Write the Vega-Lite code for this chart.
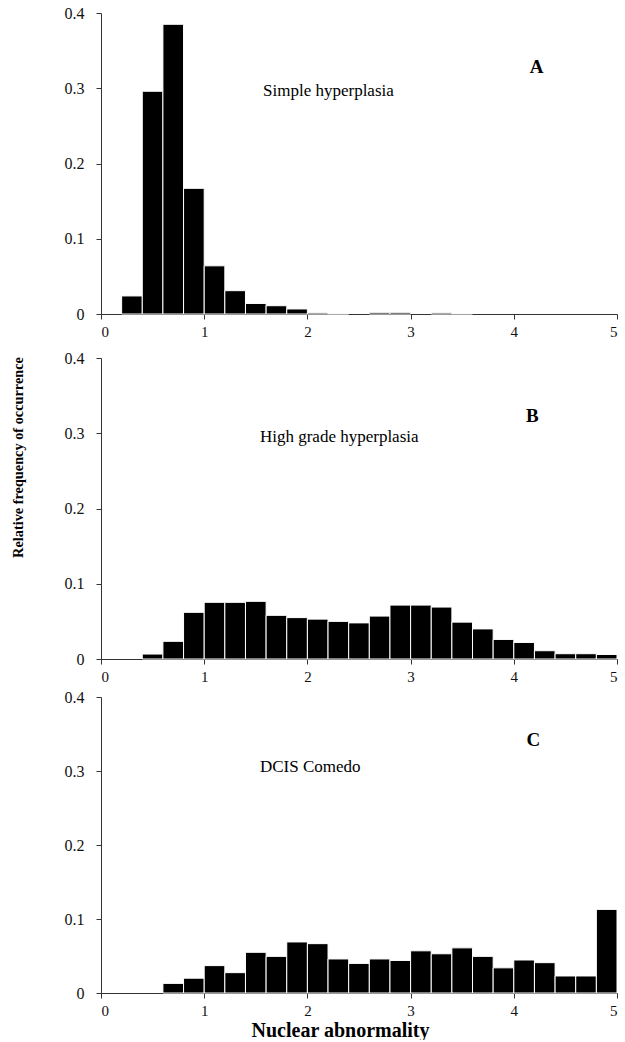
{
  "$schema": "https://vega.github.io/schema/vega-lite/v6.json",
  "background": "white",
  "padding": {"left": 10, "top": 5, "right": 5, "bottom": 0},
  "config": {
    "font": "Liberation Serif",
    "view": {"stroke": null},
    "axis": {
      "grid": false,
      "domainColor": "#333",
      "tickColor": "#333",
      "labelColor": "#111",
      "labelFont": "Liberation Serif",
      "labelFontSize": 15,
      "titleFont": "Liberation Serif",
      "titleFontWeight": "bold",
      "titleColor": "#000",
      "titleFontSize": 20,
      "tickSize": 5,
      "domainWidth": 1,
      "tickWidth": 1
    },
    "axisY": {"labelFontSize": 16, "labelPadding": 12},
    "axisX": {"labelPadding": 5}
  },
  "datasets": {
    "hist": [
      {"panel": "A", "start": 0.2, "end": 0.4, "freq": 0.024},
      {"panel": "A", "start": 0.4, "end": 0.6, "freq": 0.296},
      {"panel": "A", "start": 0.6, "end": 0.8, "freq": 0.385},
      {"panel": "A", "start": 0.8, "end": 1.0, "freq": 0.167},
      {"panel": "A", "start": 1.0, "end": 1.2, "freq": 0.064},
      {"panel": "A", "start": 1.2, "end": 1.4, "freq": 0.031},
      {"panel": "A", "start": 1.4, "end": 1.6, "freq": 0.014},
      {"panel": "A", "start": 1.6, "end": 1.8, "freq": 0.011},
      {"panel": "A", "start": 1.8, "end": 2.0, "freq": 0.0067},
      {"panel": "A", "start": 2.0, "end": 2.2, "freq": 0.0015},
      {"panel": "A", "start": 2.2, "end": 2.4, "freq": 0.0004},
      {"panel": "A", "start": 2.6, "end": 2.8, "freq": 0.0022},
      {"panel": "A", "start": 2.8, "end": 3.0, "freq": 0.0022},
      {"panel": "A", "start": 3.2, "end": 3.4, "freq": 0.0015},
      {"panel": "A", "start": 3.4, "end": 3.6, "freq": 0.0005},
      {"panel": "B", "start": 0.4, "end": 0.6, "freq": 0.0066},
      {"panel": "B", "start": 0.6, "end": 0.8, "freq": 0.0235},
      {"panel": "B", "start": 0.8, "end": 1.0, "freq": 0.062},
      {"panel": "B", "start": 1.0, "end": 1.2, "freq": 0.0753},
      {"panel": "B", "start": 1.2, "end": 1.4, "freq": 0.0753},
      {"panel": "B", "start": 1.4, "end": 1.6, "freq": 0.0766},
      {"panel": "B", "start": 1.6, "end": 1.8, "freq": 0.058},
      {"panel": "B", "start": 1.8, "end": 2.0, "freq": 0.055},
      {"panel": "B", "start": 2.0, "end": 2.2, "freq": 0.053},
      {"panel": "B", "start": 2.2, "end": 2.4, "freq": 0.050},
      {"panel": "B", "start": 2.4, "end": 2.6, "freq": 0.048},
      {"panel": "B", "start": 2.6, "end": 2.8, "freq": 0.057},
      {"panel": "B", "start": 2.8, "end": 3.0, "freq": 0.0716},
      {"panel": "B", "start": 3.0, "end": 3.2, "freq": 0.0716},
      {"panel": "B", "start": 3.2, "end": 3.4, "freq": 0.069},
      {"panel": "B", "start": 3.4, "end": 3.6, "freq": 0.049},
      {"panel": "B", "start": 3.6, "end": 3.8, "freq": 0.040},
      {"panel": "B", "start": 3.8, "end": 4.0, "freq": 0.026},
      {"panel": "B", "start": 4.0, "end": 4.2, "freq": 0.022},
      {"panel": "B", "start": 4.2, "end": 4.4, "freq": 0.011},
      {"panel": "B", "start": 4.4, "end": 4.6, "freq": 0.007},
      {"panel": "B", "start": 4.6, "end": 4.8, "freq": 0.007},
      {"panel": "B", "start": 4.8, "end": 5.0, "freq": 0.006},
      {"panel": "C", "start": 0.6, "end": 0.8, "freq": 0.013},
      {"panel": "C", "start": 0.8, "end": 1.0, "freq": 0.020},
      {"panel": "C", "start": 1.0, "end": 1.2, "freq": 0.037},
      {"panel": "C", "start": 1.2, "end": 1.4, "freq": 0.0275},
      {"panel": "C", "start": 1.4, "end": 1.6, "freq": 0.055},
      {"panel": "C", "start": 1.6, "end": 1.8, "freq": 0.0495},
      {"panel": "C", "start": 1.8, "end": 2.0, "freq": 0.069},
      {"panel": "C", "start": 2.0, "end": 2.2, "freq": 0.0667},
      {"panel": "C", "start": 2.2, "end": 2.4, "freq": 0.046},
      {"panel": "C", "start": 2.4, "end": 2.6, "freq": 0.040},
      {"panel": "C", "start": 2.6, "end": 2.8, "freq": 0.046},
      {"panel": "C", "start": 2.8, "end": 3.0, "freq": 0.044},
      {"panel": "C", "start": 3.0, "end": 3.2, "freq": 0.057},
      {"panel": "C", "start": 3.2, "end": 3.4, "freq": 0.053},
      {"panel": "C", "start": 3.4, "end": 3.6, "freq": 0.061},
      {"panel": "C", "start": 3.6, "end": 3.8, "freq": 0.0495},
      {"panel": "C", "start": 3.8, "end": 4.0, "freq": 0.034},
      {"panel": "C", "start": 4.0, "end": 4.2, "freq": 0.0446},
      {"panel": "C", "start": 4.2, "end": 4.4, "freq": 0.041},
      {"panel": "C", "start": 4.4, "end": 4.6, "freq": 0.023},
      {"panel": "C", "start": 4.6, "end": 4.8, "freq": 0.023},
      {"panel": "C", "start": 4.8, "end": 5.0, "freq": 0.113}
    ],
    "names": [
      {"panel": "A", "label": "Simple hyperplasia", "x": 1.57, "y": 0.296},
      {"panel": "B", "label": "High grade hyperplasia", "x": 1.54, "y": 0.295},
      {"panel": "C", "label": "DCIS Comedo", "x": 1.54, "y": 0.305}
    ],
    "letters": [
      {"panel": "A", "label": "A", "x": 4.22, "y": 0.328},
      {"panel": "B", "label": "B", "x": 4.18, "y": 0.323},
      {"panel": "C", "label": "C", "x": 4.19, "y": 0.342}
    ]
  },
  "spacing": 11,
  "vconcat": [
    {
      "width": 516,
      "height": 301,
      "layer": [
        {
          "data": {"name": "hist"},
          "transform": [{"filter": "datum.panel === 'A'"}],
          "mark": {"type": "rect", "color": "black", "stroke": "white", "strokeWidth": 1},
          "encoding": {
            "x": {"field": "start", "type": "quantitative", "scale": {"domain": [0, 5], "nice": false, "zero": false},
              "axis": {"values": [0, 1, 2, 3, 4, 5], "format": "d", "title": null}},
            "x2": {"field": "end"},
            "y": {"field": "freq", "type": "quantitative", "scale": {"domain": [0, 0.4], "nice": false},
              "axis": {"values": [0, 0.1, 0.2, 0.3, 0.4], "labelExpr": "datum.value === 0 ? '0' : format(datum.value, '.1f')", "title": null}},
            "y2": {"datum": 0}
          }
        },
        {
          "data": {"name": "names"},
          "transform": [{"filter": "datum.panel === 'A'"}],
          "mark": {"type": "text", "align": "left", "baseline": "middle", "font": "Liberation Serif", "fontSize": 17, "color": "black"},
          "encoding": {
            "x": {"field": "x", "type": "quantitative"},
            "y": {"field": "y", "type": "quantitative"},
            "text": {"field": "label"}
          }
        },
        {
          "data": {"name": "letters"},
          "transform": [{"filter": "datum.panel === 'A'"}],
          "mark": {"type": "text", "align": "center", "baseline": "middle", "font": "Liberation Serif", "fontSize": 19, "fontWeight": "bold", "color": "black"},
          "encoding": {
            "x": {"field": "x", "type": "quantitative"},
            "y": {"field": "y", "type": "quantitative"},
            "text": {"field": "label"}
          }
        }
      ]
    },
    {
      "spacing": 5,
      "vconcat": [
        {
          "width": 516,
          "height": 301,
          "layer": [
            {
              "data": {"name": "hist"},
              "transform": [{"filter": "datum.panel === 'B'"}],
              "mark": {"type": "rect", "color": "black", "stroke": "white", "strokeWidth": 1},
              "encoding": {
                "x": {"field": "start", "type": "quantitative", "scale": {"domain": [0, 5], "nice": false, "zero": false},
                  "axis": {"values": [0, 1, 2, 3, 4, 5], "format": "d", "title": null}},
                "x2": {"field": "end"},
                "y": {"field": "freq", "type": "quantitative", "scale": {"domain": [0, 0.4], "nice": false},
                  "axis": {"values": [0, 0.1, 0.2, 0.3, 0.4], "labelExpr": "datum.value === 0 ? '0' : format(datum.value, '.1f')", "title": "Relative frequency of occurrence", "titleFontSize": 14.3, "titleY": 99, "titleX": -76}},
                "y2": {"datum": 0}
              }
            },
            {
              "data": {"name": "names"},
              "transform": [{"filter": "datum.panel === 'B'"}],
              "mark": {"type": "text", "align": "left", "baseline": "middle", "font": "Liberation Serif", "fontSize": 17, "color": "black"},
              "encoding": {
                "x": {"field": "x", "type": "quantitative"},
                "y": {"field": "y", "type": "quantitative"},
                "text": {"field": "label"}
              }
            },
            {
              "data": {"name": "letters"},
              "transform": [{"filter": "datum.panel === 'B'"}],
              "mark": {"type": "text", "align": "center", "baseline": "middle", "font": "Liberation Serif", "fontSize": 19, "fontWeight": "bold", "color": "black"},
              "encoding": {
                "x": {"field": "x", "type": "quantitative"},
                "y": {"field": "y", "type": "quantitative"},
                "text": {"field": "label"}
              }
            }
          ]
        },
        {
          "width": 516,
          "height": 296,
          "layer": [
            {
              "data": {"name": "hist"},
              "transform": [{"filter": "datum.panel === 'C'"}],
              "mark": {"type": "rect", "color": "black", "stroke": "white", "strokeWidth": 1},
              "encoding": {
                "x": {"field": "start", "type": "quantitative", "scale": {"domain": [0, 5], "nice": false, "zero": false},
                  "axis": {"values": [0, 1, 2, 3, 4, 5], "format": "d", "title": "Nuclear abnormality", "titlePadding": 2, "titleX": 239}},
                "x2": {"field": "end"},
                "y": {"field": "freq", "type": "quantitative", "scale": {"domain": [0, 0.4], "nice": false},
                  "axis": {"values": [0, 0.1, 0.2, 0.3, 0.4], "labelExpr": "datum.value === 0 ? '0' : format(datum.value, '.1f')", "title": null}},
                "y2": {"datum": 0}
              }
            },
            {
              "data": {"name": "names"},
              "transform": [{"filter": "datum.panel === 'C'"}],
              "mark": {"type": "text", "align": "left", "baseline": "middle", "font": "Liberation Serif", "fontSize": 17, "color": "black"},
              "encoding": {
                "x": {"field": "x", "type": "quantitative"},
                "y": {"field": "y", "type": "quantitative"},
                "text": {"field": "label"}
              }
            },
            {
              "data": {"name": "letters"},
              "transform": [{"filter": "datum.panel === 'C'"}],
              "mark": {"type": "text", "align": "center", "baseline": "middle", "font": "Liberation Serif", "fontSize": 19, "fontWeight": "bold", "color": "black"},
              "encoding": {
                "x": {"field": "x", "type": "quantitative"},
                "y": {"field": "y", "type": "quantitative"},
                "text": {"field": "label"}
              }
            }
          ]
        }
      ]
    }
  ]
}
